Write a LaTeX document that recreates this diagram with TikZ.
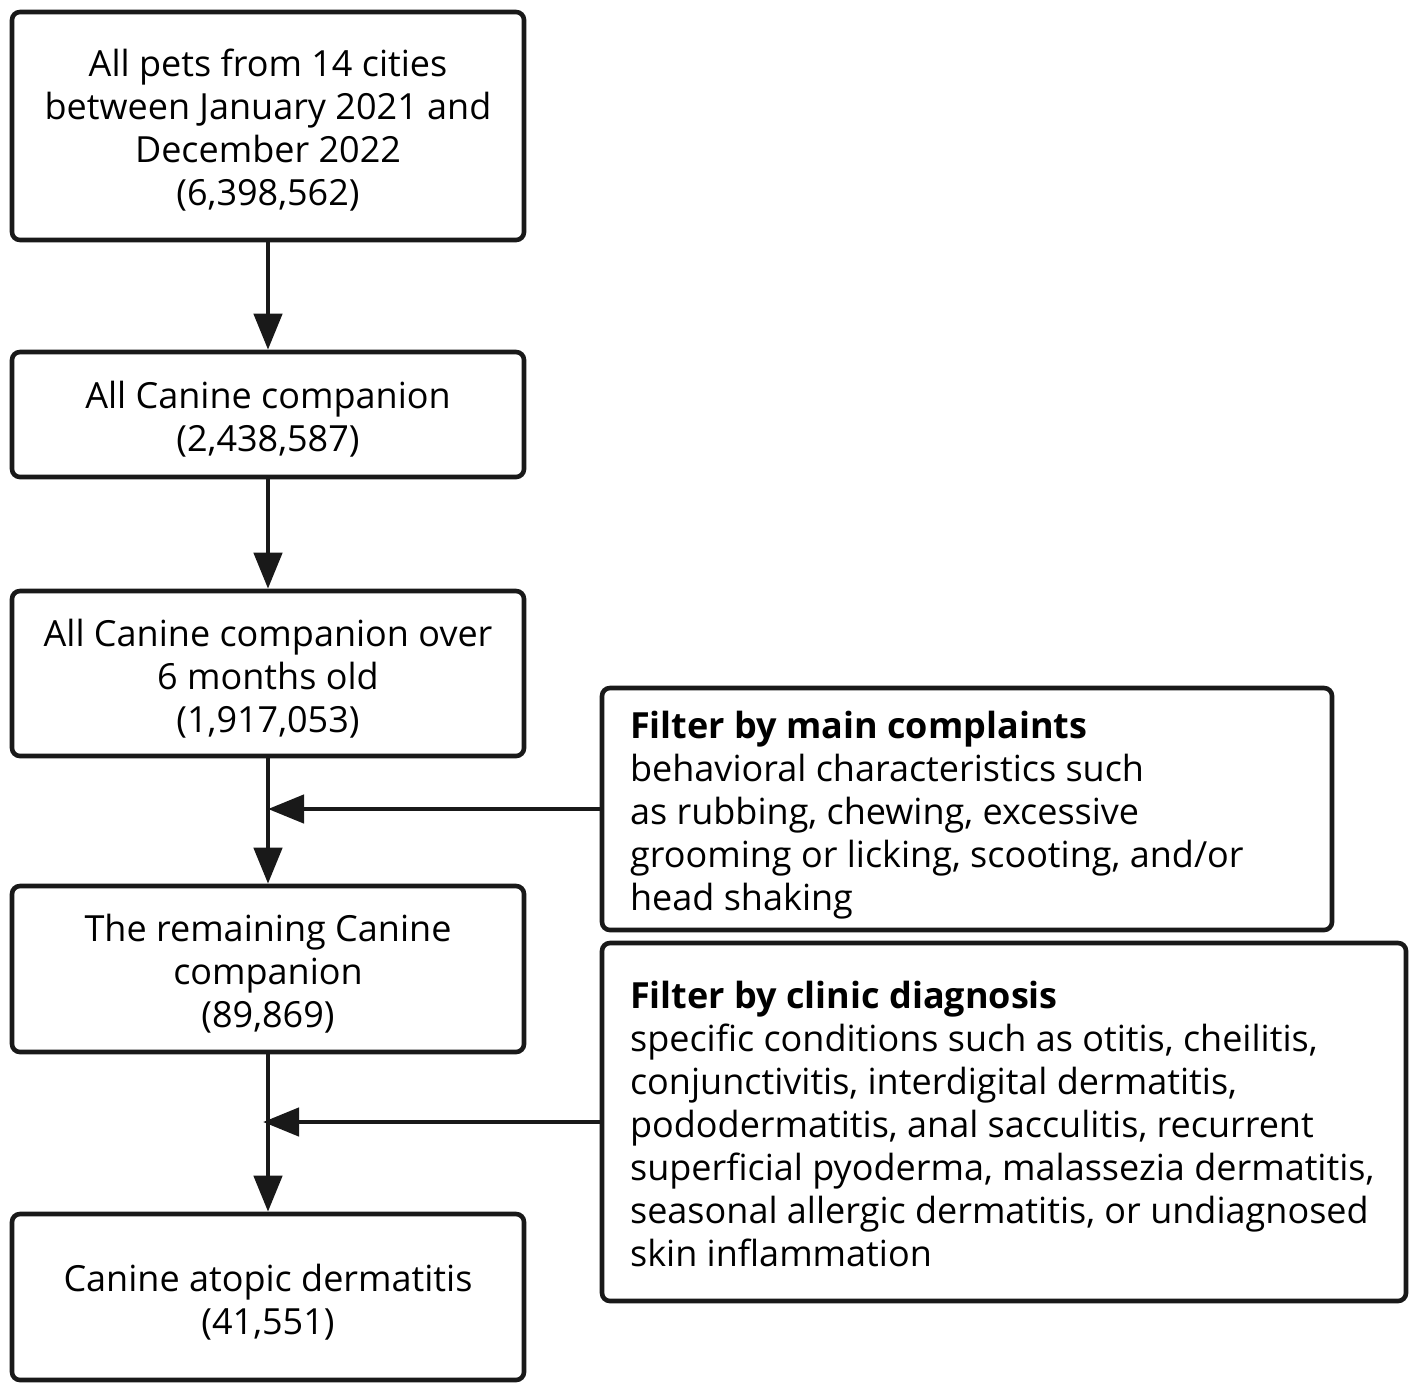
\documentclass[tikz,border=0pt]{standalone}
\usepackage{fontspec}
\setmainfont{Open Sans}
\usetikzlibrary{arrows.meta}
\begin{document}
\begin{tikzpicture}[x=0.5pt,y=-0.5pt,
  box/.style={draw=black!90, line width=2.3pt, rounded corners=4pt, fill=white,
    inner sep=0pt},
  btext/.style={inner sep=0pt, align=center, font=\fontsize{18}{21.5}\selectfont},
  ftext/.style={inner sep=0pt, align=left, anchor=west, font=\fontsize{18}{21.5}\selectfont},
  arr/.style={draw=black!90, line width=2.3pt, -{Triangle[length=18pt,width=14pt]}}]
\useasboundingbox (0,0) rectangle (1418,1392);
% main boxes
\node[box, minimum width=256pt, minimum height=114pt] (b1) at (268,126) {};
\node[box, minimum width=256pt, minimum height=62.5pt] (b2) at (268,414.5) {};
\node[box, minimum width=256pt, minimum height=82.5pt] (b3) at (268,673.5) {};
\node[box, minimum width=256pt, minimum height=83pt] (b4) at (268,969) {};
\node[box, minimum width=256pt, minimum height=83pt] (b5) at (268,1297) {};
\node[btext] (b1t) at ([yshift=-2pt]b1.center)
  {All pets from 14 cities\\between January 2021 and\\December 2022\\(6,398,562)};
\node[btext] (b2t) at ([yshift=-2.5pt]b2.center)
  {All Canine companion\\(2,438,587)};
\node[btext] (b3t) at ([yshift=-2.5pt]b3.center)
  {All Canine companion over\\6 months old\\(1,917,053)};
\node[btext] (b4t) at ([yshift=-2.5pt]b4.center)
  {The remaining Canine\\companion\\(89,869)};
\node[btext] (b5t) at ([yshift=-2.5pt]b5.center)
  {Canine atopic dermatitis\\(41,551)};
% filter boxes
\node[box, minimum width=365pt, minimum height=121pt] (f1) at (967,809) {};
\node[box, minimum width=402pt, minimum height=179pt] (f2) at (1004,1122) {};
\node[ftext] (f1t) at ([xshift=15pt,yshift=-3pt]f1.west)
  {\textbf{Filter by main complaints}\\behavioral characteristics such\\as rubbing, chewing, excessive\\grooming or licking, scooting, and/or\\head shaking};
\node[ftext] (f2t) at ([xshift=15pt,yshift=-1.2pt]f2.west)
  {\textbf{Filter by clinic diagnosis}\\specific conditions such as otitis, cheilitis,\\conjunctivitis, interdigital dermatitis,\\pododermatitis, anal sacculitis, recurrent\\superficial pyoderma, malassezia dermatitis,\\seasonal allergic dermatitis, or undiagnosed\\skin inflammation};
% connectors
\draw[arr] (b1.south) -- (b2.north);
\draw[arr] (b2.south) -- (b3.north);
\draw[arr] (b3.south) -- (b4.north);
\draw[arr] (b4.south) -- (b5.north);
\coordinate (j1) at (f1.west -| b3.south);
\coordinate (j2) at ([xshift=-2.5pt]f2.west -| b4.south);
\draw[arr] (f1.west) -- (j1);
\draw[arr] (f2.west) -- (j2);
\end{tikzpicture}
\end{document}
